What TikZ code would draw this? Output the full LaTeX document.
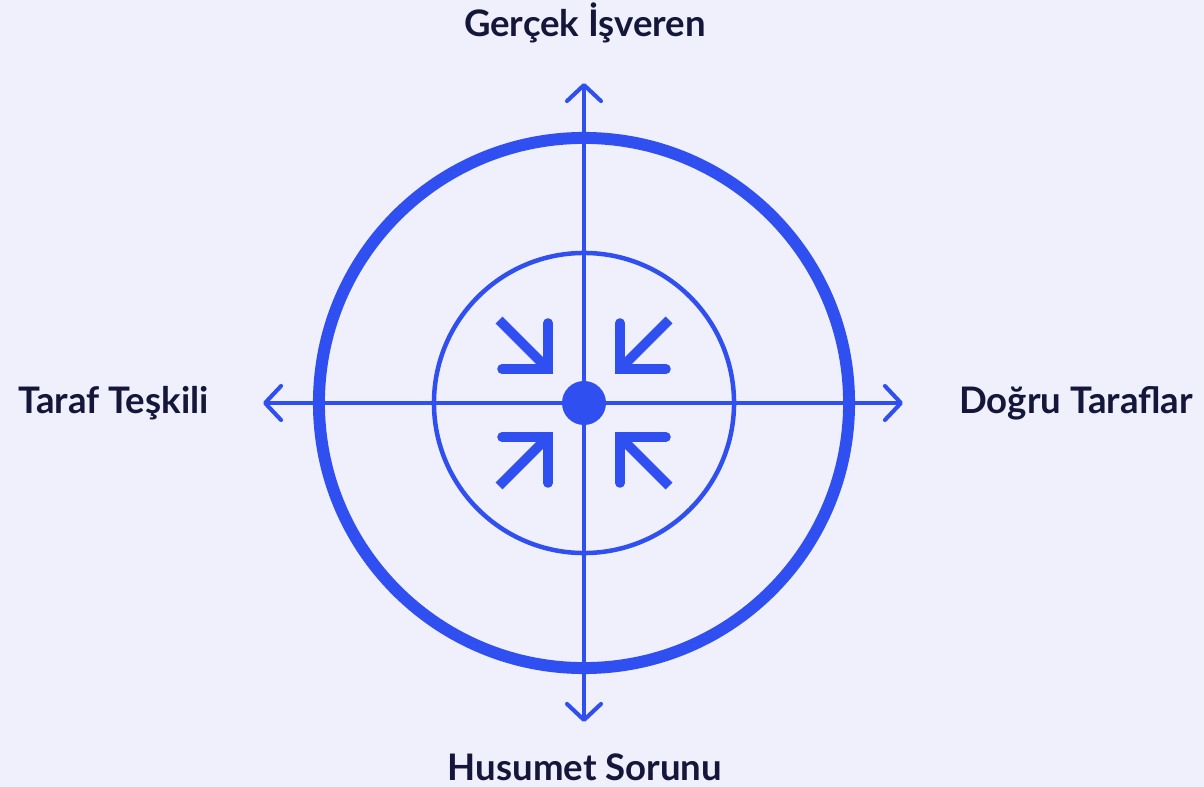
\documentclass[tikz,border=0pt]{standalone}
\usepackage{fontspec}
\setmainfont{Lato}
\usetikzlibrary{arrows.meta}
\definecolor{bgcol}{HTML}{EFF0FB}
\definecolor{axblue}{HTML}{2F4FF0}
\definecolor{labink}{HTML}{14163A}
\begin{document}
\begin{tikzpicture}[x=0.025cm, y=-0.025cm, font=\bfseries\fontsize{26}{30}\selectfont,
      axis/.style={draw=axblue, line width=2.9pt, -{Straight Barb[length=4mm, width=8.5mm, round]}},
      ring/.style={draw=axblue},
      pin/.style={draw=axblue, line width=6.8pt},
      lab/.style={text=labink, inner sep=0pt}]
    \useasboundingbox[fill=bgcol] (0,0) rectangle (1204,787);
    \coordinate (c) at (584,403);
    % rings
    \draw[ring, line width=8.5pt] (c) circle[radius=6.625cm];
    \draw[ring, line width=3.2pt] (c) circle[radius=3.75cm];
    % axes
    \coordinate (up) at (584,83);
    \coordinate (dn) at (584,722);
    \coordinate (lt) at (263,403);
    \coordinate (rt) at (903,403);
    \draw[axis] (c) -- (up);
    \draw[axis] (c) -- (dn);
    \draw[axis] (c) -- (lt);
    \draw[axis] (c) -- (rt);
    \node[circle, fill=axblue, minimum size=1.1cm, inner sep=0pt] (hub) at (c) {};
    % inward arrows
    \foreach \sx/\sy in {-1/-1, 1/-1, -1/1, 1/1} {
      \coordinate (tip) at ([shift={(36*\sx,34*\sy)}]c);
      \draw[pin] ([shift={(49*\sx,49*\sy)}]tip) -- (tip);
      \draw[pin, line cap=round, line join=miter] ([shift={(0,46*\sy)}]tip) -- (tip) -- ([shift={(46*\sx,0)}]tip);
    }
    % labels
    \node[lab, anchor=base] (gercek) at (585,37) {Gerçek İşveren};
    \node[lab, anchor=base] (husumet) at (585,780) {Husumet Sorunu};
    \node[lab, anchor=base west] (taraf) at (18,413) {Taraf Teşkili};
    \node[lab, anchor=base west] (dogru) at (959,413) {Doğru Taraflar};
\end{tikzpicture}
\end{document}
